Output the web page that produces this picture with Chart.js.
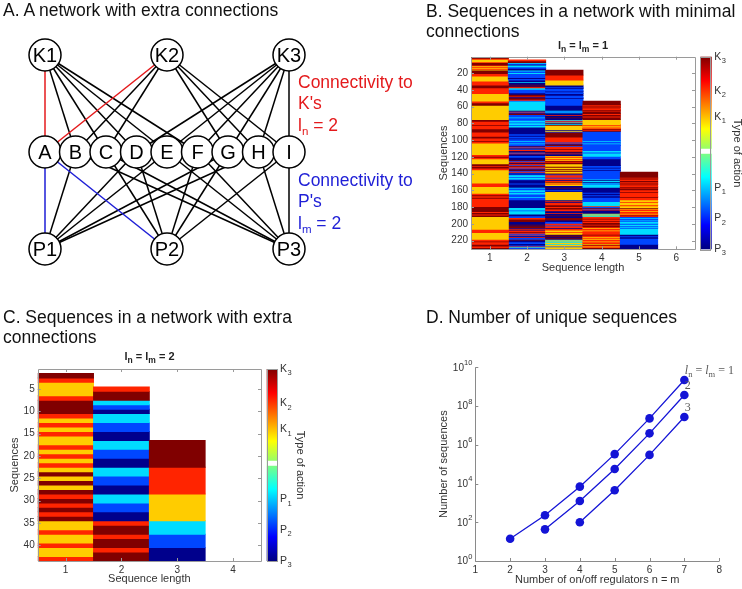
<!DOCTYPE html>
<html>
<head>
<meta charset="utf-8">
<title>Sequences in regulatory networks</title>
<script src="https://cdn.jsdelivr.net/npm/chart.js@4.4.1/dist/chart.umd.min.js"></script>
<style>
  html, body { margin:0; padding:0; background:#ffffff; }
  #fig { position:relative; width:742px; height:589px; overflow:hidden; font-family:"Liberation Sans", Arial, Helvetica, sans-serif; }
  #fig canvas { position:absolute; left:0; top:0; }
  .ptitle { position:absolute; z-index:2; font-size:17.5px; line-height:20px; color:#111; white-space:nowrap; }
  .note { position:absolute; z-index:2; font-size:17.5px; line-height:21.5px; white-space:nowrap; }
  .note .s { font-size:11.5px; position:relative; top:4px; line-height:0; }
  .htitle { position:absolute; z-index:2; width:200px; text-align:center; font-weight:bold; font-size:11px; line-height:13px; color:#222; white-space:nowrap; }
  .htitle .s { font-size:8.5px; position:relative; top:3px; line-height:0; }
</style>
</head>
<body>
<div id="fig">
  <div class="ptitle" style="left:3px;top:0px">A. A network with extra connections</div>
  <div class="ptitle" style="left:426px;top:0.5px">B. Sequences in a network with minimal<br>connections</div>
  <div class="ptitle" style="left:3px;top:306.5px">C. Sequences in a network with extra<br>connections</div>
  <div class="ptitle" style="left:426px;top:306.5px">D. Number of unique sequences</div>
  <div class="note" style="left:298px;top:71.5px;color:#e41a1c">Connectivity to<br>K's<br>l<span class="s">n</span> = 2</div>
  <div class="note" style="left:298px;top:169.5px;color:#1f1fd6">Connectivity to<br>P's<br>l<span class="s">m</span> = 2</div>
  <div class="htitle" style="left:483px;top:38.5px">l<span class="s">n</span> = l<span class="s">m</span> = 1</div>
  <div class="htitle" style="left:49.5px;top:350px">l<span class="s">n</span> = l<span class="s">m</span> = 2</div>
</div>
<script>
// ================= DATA =================
// ---- Panel A: network ----
const kinases = ['K1', 'K2', 'K3'];
const phosphatases = ['P1', 'P2', 'P3'];
const targets = ['A', 'B', 'C', 'D', 'E', 'F', 'G', 'H', 'I'];
const kinaseSlot = [0, 4, 8];
const phosSlot = [0, 4, 8];
const targetSlot = [0, 1, 2, 3, 4, 5, 6, 7, 8];
const targetKinases = [[1,2],[1,2],[1,2],[1,3],[1,3],[1,3],[2,3],[2,3],[2,3]];
const targetPhos = [[1,2],[1,3],[2,3],[1,2],[1,3],[2,3],[1,2],[1,3],[2,3]];
const highlightedTarget = 'A';

// ---- action codes: 0=P3 1=P2 2=P1 3=K1 4=K2 5=K3 ----
const actionNames = ['P3', 'P2', 'P1', 'K1', 'K2', 'K3'];

// ---- Panel B: l_n = l_m = 1 (run-length [action, rows]) ----
const seqLengthB = ['1', '2', '3', '4', '5', '6'];
const rowsB = 230;
const firstRowB = [2, 5, 17, 54, 139];
const yTicksB = [20, 40, 60, 80, 100, 120, 140, 160, 180, 200, 220];
const runsB1 = [[5,1],[4,1],[3,1],
 [3,2],[4,1],[5,3],[4,1],[3,1],[4,1],[3,1],[4,1],[3,1],
 [5,4],[4,3],[3,6],[4,5],[5,3],[4,7],[3,9],
 [4,2],[5,3],[3,17],[5,2],[4,4],[5,1],[4,4],[5,4],[4,5],[5,2],[4,3],[5,1],[4,2],[3,14],[4,2],[5,1],[4,2],[3,4],
 [3,2],[5,2],[4,1],[5,2],[4,2],[3,16],[4,4],[3,8],[4,2],[5,1],[4,2],[5,1],[4,2],[4,8],[5,6],[4,1],[5,2],[4,1],[5,2],[3,15],[4,4],[3,8],[4,2],[5,1],[4,3],[5,2],[4,2],[5,2]];
const runsB2 = [[4,1],[5,2],[2,1],[1,1],[0,1],[2,2],[1,2],[0,2],
 [2,1],[1,2],[2,1],[1,2],[1,3],[0,1],[1,2],[0,2],[2,1],[0,2],[5,1],[0,1],[5,1],[4,1],
 [2,2],[1,2],[1,2],[0,2],[5,2],[4,1],[0,1],[5,2],[4,1],[1,1],[2,11],
 [5,1],[1,1],[4,1],[0,1],[5,1],[1,1],[1,2],[2,1],[1,3],[2,2],[1,1],[2,2],[1,1],[2,2],[0,8],
 [1,2],[0,1],[1,2],[0,1],[1,2],[2,1],[1,2],[2,1],[1,2],[0,1],
 [4,1],[1,1],[5,1],[1,1],[4,1],[0,1],[5,1],[1,1],[4,1],[0,2],[1,2],[0,3],
 [5,1],[1,1],[4,1],[0,1],[5,1],[4,1],[1,1],[5,1],[4,1],[1,1],[4,1],[0,1],[5,1],[1,1],[4,1],[1,1],[0,1],
 [1,1],[2,2],[1,1],[2,2],[1,1],[0,4],[1,1],[0,4],[2,1],[1,2],[2,2],[1,1],[2,2],[1,3],[2,1],[1,3],[0,9],
 [2,3],[1,1],[2,4],[0,2],[1,2],[4,2],[5,3],[0,3],[5,1],[0,1],[5,2],[0,1],[4,1],[0,1],[4,2],[5,1],[4,1],
 [1,1],[4,1],[1,1],[0,1],[4,1],[1,2],[5,1],[0,2],[1,2],[0,2],[1,1],[4,1],[2,1],[1,1],[4,1]];
const runsB3 = [[5,6],[4,6],[3,6],[0,2],[1,1],[0,1],[1,3],[0,1],[1,2],[0,2],[1,3],[0,1],[1,8],[0,6],
 [2,1],[1,1],[2,1],[0,2],[4,1],[0,2],[5,1],[0,2],[2,1],[4,1],[1,1],[3,1],[0,1],[2,1],[5,1],[3,4],
 [3,1],[0,1],[3,1],[1,1],[5,6],[4,6],[1,1],[4,1],[0,1],[5,1],[1,1],[4,1],[4,2],[5,1],[4,2],[5,1],
 [0,1],[4,1],[0,2],[3,1],[4,1],[3,2],[4,1],[3,1],[5,1],[4,1],[5,2],[3,3],
 [5,1],[3,2],[5,1],[3,1],[5,1],[3,2],[5,1],[1,1],[4,1],[4,2],[1,1],[4,2],[0,1],[4,1],[5,1],
 [3,1],[4,1],[3,2],[0,2],[5,1],[0,2],[1,1],[0,1],[3,10],[0,1],[4,1],[0,1],[4,1],
 [4,2],[5,2],[4,1],[5,2],[4,2],[0,2],[4,1],[0,2],[5,1],[0,2],[5,3],[0,2],[1,2],
 [4,2],[1,1],[4,2],[0,1],[4,2],[3,2],[4,1],[3,2],[5,1],[0,1],[5,1],[0,1],[5,1],[0,1],
 [3,1],[2,1],[3,1],[2,1],[3,1],[2,1],[3,1],[3,1],[1,1],[3,2],[0,1]];
const runsB4 = [[5,4],[4,1],[5,1],[4,1],[5,1],[4,2],[5,1],[4,1],[5,3],[4,1],[5,2],[4,1],[5,3],[3,6],[4,1],
 [3,1],[4,1],[3,1],[4,1],[5,1],[4,1],[5,1],[1,11],[2,1],[1,2],[2,1],[1,2],[1,6],[2,2],[1,1],[2,4],[1,3],[0,8],
 [1,2],[0,1],[1,2],[0,1],[1,2],[1,8],[2,1],[0,1],[2,1],[0,1],[2,1],[1,1],[2,4],[0,4],
 [0,2],[1,1],[0,2],[1,1],[0,2],[1,5],[2,5],[4,1],[1,1],[5,1],[1,1],[4,1],[0,1],[0,3],
 [3,1],[2,1],[3,1],[2,1],[4,2],[5,1],[4,2],[5,1],[4,1],[5,2],[4,1],[5,2],[4,1],
 [3,1],[4,2],[3,1],[4,2],[4,2],[5,1],[4,2],[3,1],[4,1],[3,1],[4,2],[3,1],[4,1],
 [4,1],[3,1],[5,1],[4,1],[3,1],[4,1],[5,1],[4,1]];
const runsB5 = [[5,6],[4,1],[5,1],[4,2],[5,1],[4,1],[5,1],[4,1],
 [5,1],[4,2],[5,1],[4,1],[5,2],[4,2],[5,1],[4,2],[4,3],[5,1],[4,3],
 [3,2],[4,1],[3,2],[3,1],[4,1],[3,2],[5,1],[3,1],[4,2],[3,1],[4,2],[3,1],[4,1],[5,1],[4,1],
 [1,1],[2,1],[1,2],[2,1],[1,1],[2,1],[2,1],[1,1],[2,2],[1,1],[2,1],[1,1],[2,7],
 [0,2],[1,1],[0,2],[1,7],[0,6]];

// ---- Panel C: l_n = l_m = 2 ----
const seqLengthC = ['1', '2', '3', '4'];
const rowsC = 43;
const firstRowC = [2, 5, 17];
const yTicksC = [5, 10, 15, 20, 25, 30, 35, 40];
const runsC1 = [[5,1],[4,1],[3,3],[4,1],[5,3],[4,1],[3,1],[4,1],[3,1],[4,1],[3,2],[4,1],[3,1],[4,1],
 [3,1],[4,1],[3,1],[5,1],[3,1],[5,1],[3,1],[5,1],[4,1],[5,1],[4,1],[5,1],[4,1],[5,1],
 [3,2],[4,1],[3,2],[4,1],[3,2],[4,1]];
const runsC2 = [[4,1],[5,2],[2,1],[1,1],[0,1],[2,2],[1,2],[0,2],[2,2],[1,2],[0,2],[2,2],[1,2],[0,2],
 [2,2],[1,2],[0,2],[4,1],[5,2],[4,1],[5,2],[4,1],[5,2]];
const runsC3 = [[5,6],[4,6],[3,6],[2,3],[1,3],[0,3]];

// ---- Panel D: number of unique sequences ----
const regulators = [2, 3, 4, 5, 6, 7];
const connectivity = ['1', '2', '3'];
const sequencesL1 = [14, 230, 6900, 3.3e5, 2.3e7, 2.2e9];
const sequencesL2 = [null, 43, 1250, 5.6e4, 3.9e6, 3.7e8];
const sequencesL3 = [null, null, 100, 4500, 3.0e5, 2.7e7];
const xTicksD = [1, 2, 3, 4, 5, 6, 7, 8];
const yTicksD = [1, 1e2, 1e4, 1e6, 1e8, 1e10];

// ================= STYLE =================
const FONT = '"Liberation Sans", Arial, Helvetica, sans-serif';
const SERIF = '"Liberation Serif", "DejaVu Serif", serif';
const actionColors = ['#00008c', '#0046ff', '#00dcff', '#ffcc00', '#ff2400', '#800000'];
const cbLabelFrac = [0.0, 0.16, 0.32, 0.685, 0.82, 1.0];
const RED = '#e41a1c', BLUE = '#1f1fd6', LINEBLUE = '#1414d6';
const AXIS_GRAY = '#9a9a9a', TXT = '#333333';

Chart.defaults.font.family = FONT;
Chart.defaults.color = TXT;

const fig = document.getElementById('fig');
function makeCanvas() {
  const c = document.createElement('canvas');
  c.width = 742; c.height = 589;
  c.style.width = '742px'; c.style.height = '589px';
  fig.insertBefore(c, fig.firstChild);
  return c;
}
function baseOptions(padding) {
  return {
    responsive: false, maintainAspectRatio: false, animation: false, devicePixelRatio: 1, events: [],
    layout: { padding },
    plugins: { legend: { display: false }, tooltip: { enabled: false }, title: { display: false } }
  };
}

// ---------- plugins ----------
const framePlugin = {
  id: 'frame',
  afterDatasetsDraw(chart, args, o) {
    if (!o || !o.on) return;
    const { ctx, chartArea: a } = chart;
    const xs = chart.scales.x, ys = chart.scales.y;
    const r = v => Math.round(v) + 0.5;
    const L = o.len;
    ctx.save();
    ctx.strokeStyle = o.color; ctx.lineWidth = 1;
    ctx.beginPath();
    xs.ticks.forEach((t, i) => {
      const x = r(xs.getPixelForTick(i));
      ctx.moveTo(x, a.bottom); ctx.lineTo(x, a.bottom - L);
      if (o.box) { ctx.moveTo(x, a.top); ctx.lineTo(x, a.top + L); }
    });
    ys.ticks.forEach((t, i) => {
      const y = r(ys.getPixelForTick(i));
      ctx.moveTo(a.left, y); ctx.lineTo(a.left + L, y);
      if (o.box) { ctx.moveTo(a.right, y); ctx.lineTo(a.right - L, y); }
    });
    ctx.stroke();
    ctx.beginPath();
    const l = r(a.left), t = r(a.top), rt = r(a.right), b = r(a.bottom);
    if (o.box) { ctx.rect(l, t, rt - l, b - t); }
    else { ctx.moveTo(l, t); ctx.lineTo(l, b); ctx.lineTo(rt, b); }
    ctx.stroke();
    ctx.restore();
  }
};

function jet(t) {
  const c = v => Math.max(0, Math.min(1, v));
  const rr = c(1.5 - Math.abs(4 * t - 3)), gg = c(1.5 - Math.abs(4 * t - 2)), bb = c(1.5 - Math.abs(4 * t - 1));
  return `rgb(${Math.round(rr * 255)},${Math.round(gg * 255)},${Math.round(bb * 255)})`;
}

const colorbarPlugin = {
  id: 'colorbar',
  afterDraw(chart, args, o) {
    if (!o || !o.on) return;
    const { ctx, chartArea: a } = chart;
    const x0 = a.right + o.gap, w = o.width, top = a.top, bot = a.bottom, h = bot - top;
    ctx.save();
    const g = ctx.createLinearGradient(0, bot, 0, top);
    for (let i = 0; i <= 32; i++) { const t = i / 32; g.addColorStop(t, jet(t)); }
    ctx.fillStyle = g;
    ctx.fillRect(x0, top, w, h);
    ctx.fillStyle = '#ffffff';
    ctx.fillRect(x0, bot - 0.522 * h, w, 0.026 * h);
    ctx.strokeStyle = AXIS_GRAY; ctx.lineWidth = 1;
    ctx.strokeRect(Math.round(x0) + 0.5, Math.round(top) + 0.5, Math.round(w) - 1, Math.round(h));
    ctx.fillStyle = TXT; ctx.textBaseline = 'middle'; ctx.textAlign = 'left';
    actionNames.forEach((nm, i) => {
      const y = bot - cbLabelFrac[i] * h;
      const lx = x0 + w + o.labelGap;
      ctx.font = '10.5px ' + FONT;
      ctx.fillText(nm[0], lx, y);
      const lw = ctx.measureText(nm[0]).width;
      ctx.font = '7.5px ' + FONT;
      ctx.fillText(nm.slice(1), lx + lw + 0.5, y + 4);
    });
    ctx.translate(x0 + w + o.titleOffset, (top + bot) / 2);
    ctx.rotate(Math.PI / 2);
    ctx.font = '11px ' + FONT; ctx.textAlign = 'center';
    ctx.fillText('Type of action', 0, 0);
    ctx.restore();
  }
};

const nodeLabelPlugin = {
  id: 'nodeLabels',
  afterDatasetsDraw(chart) {
    const { ctx } = chart;
    chart.data.datasets.forEach((ds, di) => {
      if (!ds.nodeNames) return;
      const meta = chart.getDatasetMeta(di);
      ctx.save();
      ctx.font = '20px ' + FONT; ctx.fillStyle = '#000';
      ctx.textAlign = 'center'; ctx.textBaseline = 'middle';
      meta.data.forEach((pt, i) => ctx.fillText(ds.nodeNames[i], pt.x, pt.y + 1));
      ctx.restore();
    });
  }
};

const logLabelPlugin = {
  id: 'logLabels',
  afterDraw(chart, args, o) {
    if (!o || !o.on) return;
    const { ctx, chartArea: a } = chart;
    const ys = chart.scales.y;
    ctx.save();
    ctx.fillStyle = TXT; ctx.textBaseline = 'middle';
    ys.ticks.forEach(t => {
      const e = String(Math.round(Math.log10(t.value)));
      const y = ys.getPixelForValue(t.value);
      const xr = a.left - 3;
      ctx.font = '7.5px ' + FONT;
      const ew = ctx.measureText(e).width;
      ctx.textAlign = 'left';
      ctx.fillText(e, xr - ew, y - 4.5);
      ctx.font = '10px ' + FONT;
      ctx.textAlign = 'right';
      ctx.fillText('10', xr - ew, y + 0.5);
    });
    ctx.restore();
  }
};

const curveLabelPlugin = {
  id: 'curveLabels',
  afterDatasetsDraw(chart, args, o) {
    if (!o || !o.on) return;
    const { ctx } = chart;
    ctx.save();
    ctx.fillStyle = '#5a5a5a'; ctx.textAlign = 'left'; ctx.textBaseline = 'alphabetic';
    chart.data.datasets.forEach((ds, i) => {
      if (!ds.labelParts) return;
      const meta = chart.getDatasetMeta(i);
      const last = meta.data[meta.data.length - 1];
      let x = last.x + 0.5, y = last.y - 6;
      ds.labelParts.forEach(([txt, kind]) => {
        ctx.font = kind === 'it' ? 'italic 12px ' + SERIF : kind === 'sub' ? '8.5px ' + SERIF : '12px ' + SERIF;
        ctx.fillText(txt, x, y + (kind === 'sub' ? 2.5 : 0));
        x += ctx.measureText(txt).width;
      });
    });
    ctx.restore();
  }
};

// ================= PANEL A =================
(function () {
  const nodes = [], names = [];
  kinases.forEach((k, i) => { nodes.push({ x: kinaseSlot[i], y: 0 }); names.push(k); });
  targets.forEach((t, i) => { nodes.push({ x: targetSlot[i], y: 1 }); names.push(t); });
  phosphatases.forEach((p, i) => { nodes.push({ x: phosSlot[i], y: 2 }); names.push(p); });
  const datasets = [{
    data: nodes, nodeNames: names, showLine: false, clip: false, order: 0,
    pointRadius: 16, pointBackgroundColor: '#ffffff', pointBorderColor: '#000000', pointBorderWidth: 1.5
  }];
  targets.forEach((t, i) => {
    const hl = t === highlightedTarget;
    targetKinases[i].forEach(k => datasets.push({
      data: [{ x: targetSlot[i], y: 1 }, { x: kinaseSlot[k - 1], y: 0 }], showLine: true, clip: false,
      borderColor: hl ? RED : '#000', borderWidth: 1.5, pointRadius: 0, order: hl ? 1 : 2
    }));
    targetPhos[i].forEach(p => datasets.push({
      data: [{ x: targetSlot[i], y: 1 }, { x: phosSlot[p - 1], y: 2 }], showLine: true, clip: false,
      borderColor: hl ? BLUE : '#000', borderWidth: 1.5, pointRadius: 0, order: hl ? 1 : 2
    }));
  });
  const opts = baseOptions({ left: 45, right: 742 - 289, top: 55, bottom: 589 - 249 });
  opts.scales = {
    x: { type: 'linear', display: false, min: 0, max: 8 },
    y: { type: 'linear', display: false, min: 0, max: 2, reverse: true }
  };
  new Chart(makeCanvas(), { type: 'scatter', data: { datasets }, options: opts, plugins: [nodeLabelPlugin] });
})();

// ================= HEATMAPS =================
function heatDatasets(categories, firstRows, runsList) {
  const segs = runsList.map((runs, j) => {
    let r = firstRows[j];
    return runs.map(([code, n]) => { const s = { y0: r - 0.5, y1: r + n - 0.5, code }; r += n; return s; });
  });
  const maxRuns = Math.max(...segs.map(s => s.length));
  const ds = [];
  for (let k = 0; k < maxRuns; k++) {
    ds.push({
      data: categories.map((_, j) => (segs[j] && segs[j][k]) ? [segs[j][k].y0, segs[j][k].y1] : null),
      backgroundColor: categories.map((_, j) => (segs[j] && segs[j][k]) ? actionColors[segs[j][k].code] : 'rgba(0,0,0,0)'),
      borderWidth: 0, grouped: false, categoryPercentage: 1, barPercentage: 1, inflateAmount: 0.45
    });
  }
  return ds;
}

function heatmap(categories, nRows, firstRows, runsList, yTicks, area, yw, xh, cb) {
  const opts = baseOptions({ left: area.l - yw, top: area.t, right: 742 - area.r, bottom: 589 - area.b - xh });
  opts.plugins.frame = { on: true, box: true, color: AXIS_GRAY, len: 3 };
  opts.plugins.colorbar = Object.assign({ on: true }, cb);
  opts.scales = {
    x: {
      type: 'category', offset: true,
      grid: { display: false, drawTicks: false }, border: { display: false },
      ticks: { color: TXT, font: { size: 10 }, padding: 3, maxRotation: 0 },
      title: { display: true, text: 'Sequence length', color: TXT, font: { size: 11 }, padding: 0 },
      afterFit(s) { s.height = xh; }
    },
    y: {
      type: 'linear', reverse: true, min: 0.5, max: nRows + 0.5,
      afterBuildTicks(s) { s.ticks = yTicks.map(v => ({ value: v })); },
      grid: { display: false, drawTicks: false }, border: { display: false },
      ticks: { color: TXT, font: { size: 10 }, padding: 3 },
      title: { display: true, text: 'Sequences', color: TXT, font: { size: 11 }, padding: 0 },
      afterFit(s) { s.width = yw; }
    }
  };
  new Chart(makeCanvas(), {
    type: 'bar',
    data: { labels: categories, datasets: heatDatasets(categories, firstRows, runsList) },
    options: opts,
    plugins: [framePlugin, colorbarPlugin]
  });
}

heatmap(seqLengthB, rowsB, firstRowB, [runsB1, runsB2, runsB3, runsB4, runsB5], yTicksB,
  { l: 471, r: 695, t: 56.7, b: 249.3 }, 33.6, 25,
  { gap: 5.3, width: 11.4, labelGap: 2.6, titleOffset: 25.3 });

heatmap(seqLengthC, rowsC, firstRowC, [runsC1, runsC2, runsC3], yTicksC,
  { l: 37.7, r: 261, t: 369, b: 561 }, 29.3, 24.9,
  { gap: 5.7, width: 11, labelGap: 2.3, titleOffset: 22.3 });

// ================= PANEL D =================
(function () {
  const pts = ys => regulators.map((x, i) => ({ x, y: ys[i] })).filter(p => p.y != null);
  const series = [sequencesL1, sequencesL2, sequencesL3];
  const datasets = series.map((s, i) => ({
    data: pts(s),
    labelParts: i === 0
      ? [['l', 'it'], ['n', 'sub'], [' = ', 'rm'], ['l', 'it'], ['m', 'sub'], [' = ' + connectivity[i], 'rm']]
      : [[connectivity[i], 'rm']],
    borderColor: LINEBLUE, backgroundColor: LINEBLUE, borderWidth: 1.3, tension: 0,
    pointRadius: 4.3, pointBackgroundColor: LINEBLUE, pointBorderWidth: 0, clip: false
  }));
  const area = { l: 475.3, r: 719.2, t: 367.3, b: 561 };
  const yw = 37.9, xh = 25.6;
  const opts = baseOptions({ left: area.l - yw, top: area.t, right: 742 - area.r, bottom: 589 - area.b - xh });
  opts.plugins.frame = { on: true, box: false, color: '#8a8a8a', len: 3 };
  opts.plugins.logLabels = { on: true };
  opts.plugins.curveLabels = { on: true };
  opts.scales = {
    x: {
      type: 'linear', min: 1, max: 8,
      afterBuildTicks(s) { s.ticks = xTicksD.map(v => ({ value: v })); },
      grid: { display: false, drawTicks: false }, border: { display: false },
      ticks: { color: TXT, font: { size: 10 }, padding: 3 },
      title: { display: true, text: 'Number of on/off regulators n = m', color: TXT, font: { size: 11 }, padding: 0 },
      afterFit(s) { s.height = xh; }
    },
    y: {
      type: 'logarithmic', min: 1, max: 1e10,
      afterBuildTicks(s) { s.ticks = yTicksD.map(v => ({ value: v })); },
      grid: { display: false, drawTicks: false }, border: { display: false },
      ticks: { display: false },
      title: { display: true, text: 'Number of sequences', color: TXT, font: { size: 11 }, padding: 0 },
      afterFit(s) { s.width = yw; }
    }
  };
  new Chart(makeCanvas(), { type: 'line', data: { datasets }, options: opts,
    plugins: [framePlugin, logLabelPlugin, curveLabelPlugin] });
})();
</script>
</body>
</html>
